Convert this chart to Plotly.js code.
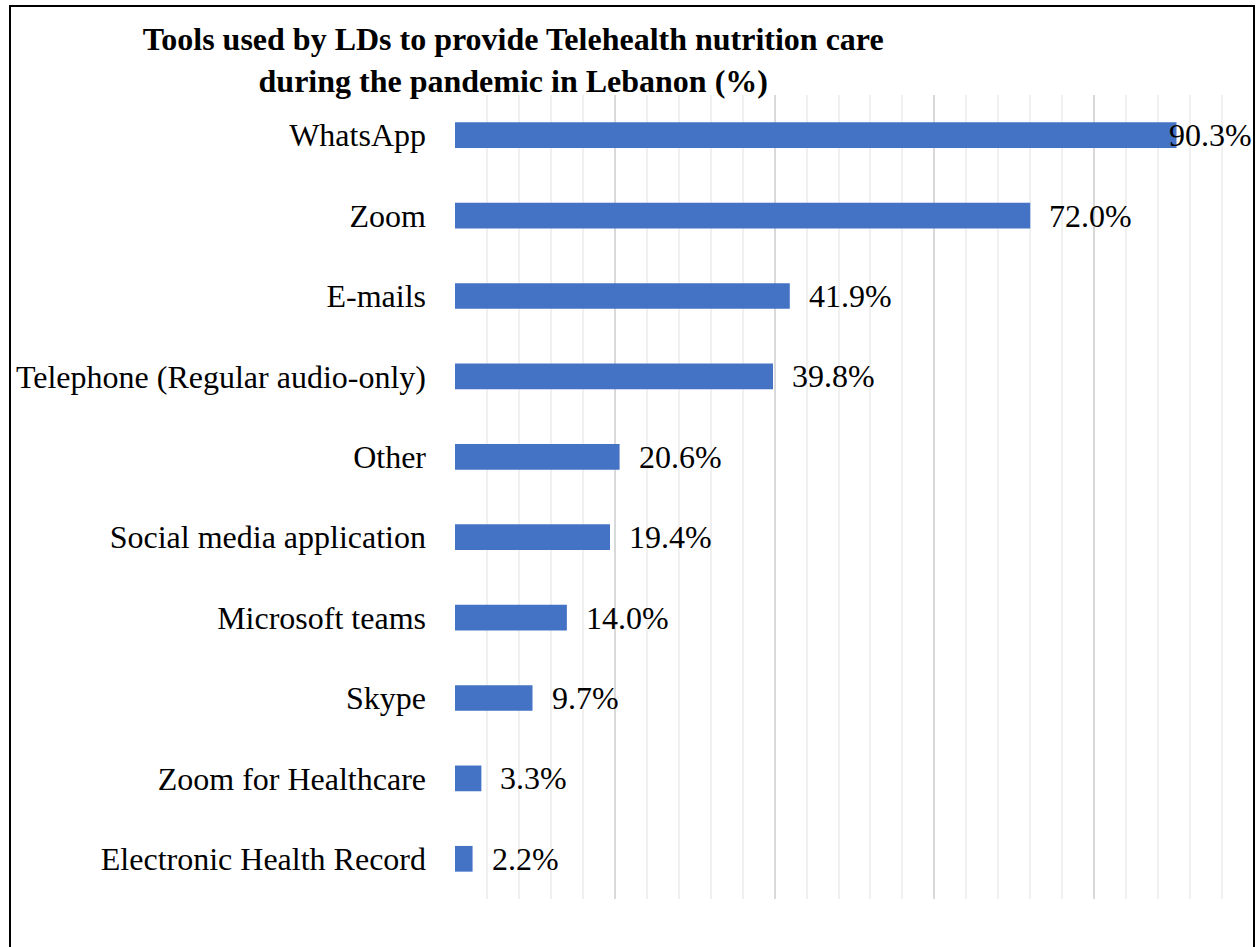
<!DOCTYPE html>
<html>
<head>
<meta charset="utf-8">
<script src="https://cdn.plot.ly/plotly-3.0.1.min.js"></script>
<style>
  html, body { margin: 0; padding: 0; background: #fff; }
  #wrap { position: relative; width: 1258px; height: 947px; overflow: hidden; }
  #chart { position: absolute; left: 0; top: 0; width: 1258px; height: 947px; }
  #frame { position: absolute; left: 9px; top: 5px; width: 1246px; height: 960px;
           border: 2.5px solid #000; pointer-events: none; box-sizing: border-box; }
</style>
</head>
<body>
<div id="wrap">
  <div id="chart"></div>
  <div id="frame"></div>
</div>
<script>
const categories = [
  "WhatsApp",
  "Zoom",
  "E-mails",
  "Telephone (Regular audio-only)",
  "Other",
  "Social media application",
  "Microsoft teams",
  "Skype",
  "Zoom for Healthcare",
  "Electronic Health Record"
];
const values = [90.3, 72.0, 41.9, 39.8, 20.6, 19.4, 14.0, 9.7, 3.3, 2.2];
const titleText = "Tools used by LDs to provide Telehealth nutrition care<br>during the pandemic in Lebanon (%)";

const xMax = 100;
const font = "Liberation Serif, Times New Roman, serif";

const annotations = values.map((v, i) => {
  const label = v.toFixed(1) + "%";
  const tooWide = v > 86;
  return {
    x: tooWide ? xMax : v,
    y: categories[i],
    xref: "x", yref: "y",
    text: label,
    showarrow: false,
    xanchor: tooWide ? "right" : "left",
    xshift: tooWide ? 0 : 17,
    yshift: 0,
    font: { family: font, size: 32, color: "#000" }
  };
});

const trace = {
  type: "bar",
  orientation: "h",
  x: values,
  y: categories,
  marker: { color: "#4472C4" },
  hoverinfo: "none"
};

const layout = {
  width: 1258,
  height: 947,
  paper_bgcolor: "#fff",
  plot_bgcolor: "#fff",
  margin: { l: 455, r: 4, t: 95, b: 48 },
  bargap: 0.68,
  showlegend: false,
  title: {
    text: titleText,
    x: 0.408, xref: "container", xanchor: "center",
    y: 0.947, yref: "container", yanchor: "top",
    font: { family: font, size: 32, color: "#000", weight: "bold" }
  },
  xaxis: {
    range: [0, xMax],
    showticklabels: false,
    ticks: "",
    dtick: 20,
    showgrid: true,
    gridcolor: "#d9d9d9",
    gridwidth: 2,
    zeroline: false,
    showline: false,
    minor: { dtick: 4, showgrid: true, gridcolor: "#f0f0f0", gridwidth: 2 }
  },
  yaxis: {
    autorange: "reversed",
    showgrid: false,
    zeroline: false,
    showline: false,
    ticks: "",
    ticklabelstandoff: 28,
    tickfont: { family: font, size: 32, color: "#000" }
  },
  annotations: annotations
};

Plotly.newPlot("chart", [trace], layout, { displayModeBar: false, staticPlot: true });
</script>
</body>
</html>
